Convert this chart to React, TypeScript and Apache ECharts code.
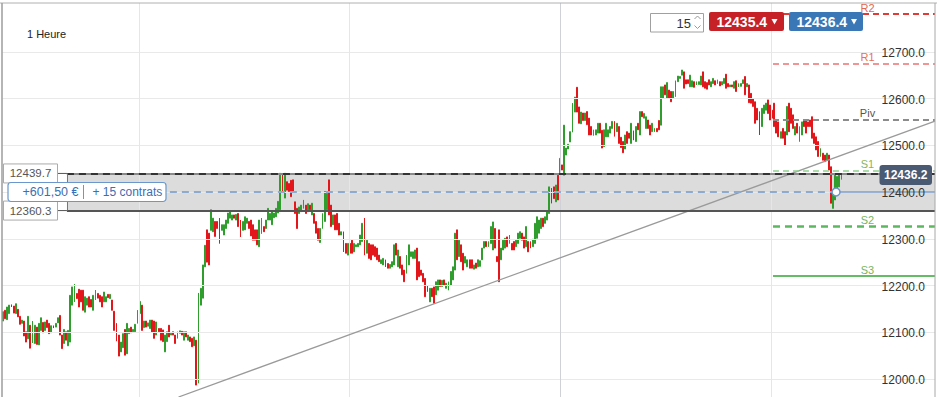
import React, { useEffect, useRef } from "react";
import * as echarts from "echarts";

const FONT = "'Liberation Sans', Arial, Helvetica, sans-serif";
const GREEN = "#2f9e2f";
const RED = "#e3171b";

// hourly candles: [open, close]
const candles: number[][] = [
  [12124,12144],[12147,12129],[12127,12154],[12140,12158],[12159,12154],[12156,12141],[12140,12161],[12149,12133],[12134,12117],[12119,12126],
  [12124,12092],[12101,12079],[12086,12134],[12115,12066],[12077,12124],[12076,12115],[12111,12074],[12073,12119],[12104,12131],[12121,12099],
  [12104,12122],[12126,12110],[12119,12097],[12099,12114],[12114,12109],[12111,12119],[12120,12131],[12136,12094],[12094,12065],[12076,12106],
  [12101,12083],[12071,12104],[12079,12179],[12158,12197],[12165,12203],[12183,12172],[12192,12154],[12190,12165],[12190,12147],[12143,12176],
  [12158,12173],[12176,12154],[12170,12154],[12147,12179],[12169,12190],[12183,12173],[12179,12165],[12176,12154],[12165,12186],[12165,12176],
  [12181,12174],[12172,12181],[12169,12147],[12145,12104],[12119,12081],[12094,12049],[12058,12079],[12067,12097],[12106,12051],[12054,12119],
  [12097,12108],[12111,12099],[12101,12106],[12101,12117],[12119,12147],[12140,12166],[12158,12104],[12110,12124],[12124,12111],[12113,12120],
  [12108,12126],[12126,12100],[12124,12087],[12094,12122],[12108,12101],[12108,12083],[12105,12080],[12058,12094],[12080,12101],[12115,12090],
  [12094,12098],[12101,12094],[12094,12076],[12087,12101],[12098,12103],[12102,12094],[12083,12101],[12101,12090],[12083,12094],[12090,12080],
  [12087,12069],[12071,12090],[12083,11987],[11991,12184],[12158,12194],[12173,12244],[12240,12286],[12319,12250],[12312,12244],[12318,12362],
  [12315,12344],[12337,12305],[12337,12322],[12344,12290],[12318,12330],[12308,12330],[12322,12340],[12333,12355],[12344,12358],[12340,12351],
  [12351,12344],[12340,12352],[12354,12326],[12340,12304],[12318,12337],[12319,12347],[12333,12344],[12337,12322],[12340,12306],[12330,12297],
  [12319,12297],[12319,12287],[12283,12340],[12311,12344],[12326,12315],[12322,12340],[12340,12365],[12340,12354],[12330,12358],[12345,12355],
  [12347,12365],[12355,12380],[12362,12440],[12437,12401],[12387,12440],[12422,12404],[12418,12401],[12425,12390],[12426,12401],[12379,12354],
  [12365,12322],[12354,12368],[12358,12372],[12365,12383],[12372,12354],[12358,12375],[12372,12362],[12351,12376],[12354,12333],[12337,12312],
  [12322,12297],[12292,12322],[12322,12354],[12337,12401],[12362,12397],[12426,12351],[12372,12326],[12330,12351],[12351,12319],[12354,12319],
  [12333,12308],[12308,12315],[12315,12272],[12290,12269],[12265,12290],[12290,12269],[12297,12269],[12272,12290],[12283,12287],[12283,12290],
  [12287,12308],[12294,12333],[12344,12265],[12269,12297],[12290,12258],[12287,12255],[12287,12265],[12283,12262],[12280,12255],[12265,12251],
  [12247,12255],[12244,12258],[12255,12240],[12247,12237],[12237,12245],[12240,12251],[12244,12287],[12290,12265],[12240,12276],[12262,12237],
  [12244,12223],[12233,12208],[12226,12265],[12244,12287],[12262,12272],[12258,12272],[12258,12276],[12280,12212],[12251,12219],[12233,12222],
  [12226,12208],[12215,12176],[12201,12187],[12165,12194],[12194,12176],[12197,12162],[12180,12208],[12190,12212],[12212,12198],[12198,12211],
  [12212,12201],[12194,12205],[12190,12208],[12201,12230],[12212,12240],[12233,12312],[12319,12255],[12262,12297],[12287,12251],[12269,12233],
  [12248,12262],[12240,12255],[12255,12237],[12255,12237],[12235,12244],[12248,12237],[12240,12255],[12241,12253],[12255,12280],[12280,12294],
  [12294,12283],[12283,12294],[12290,12326],[12276,12336],[12322,12280],[12262,12251],[12319,12208],[12255,12280],[12276,12297],[12280,12301],
  [12304,12283],[12290,12308],[12290,12276],[12294,12276],[12283,12297],[12290,12312],[12301,12315],[12312,12297],[12304,12280],[12283,12326],
  [12294,12272],[12294,12280],[12283,12299],[12290,12333],[12301,12347],[12312,12340],[12322,12344],[12344,12326],[12333,12347],[12340,12358],
  [12354,12411],[12408,12376],[12411,12386],[12379,12415],[12436,12383],[12441,12472],[12458,12447],[12436,12543],[12479,12494],[12492,12502],
  [12507,12529],[12528,12590],[12571,12603],[12624,12571],[12582,12547],[12546,12571],[12569,12553],[12553,12569],[12572,12544],[12558,12522],
  [12540,12522],[12521,12533],[12522,12533],[12526,12547],[12547,12526],[12532,12494],[12497,12533],[12518,12547],[12518,12533],[12526,12540],
  [12536,12551],[12551,12519],[12529,12547],[12540,12504],[12517,12495],[12508,12484],[12492,12522],[12529,12504],[12526,12515],[12504,12547],
  [12531,12511],[12508,12540],[12547,12533],[12522,12572],[12572,12561],[12558,12568],[12536,12561],[12554,12536],[12543,12522],[12529,12547],
  [12529,12536],[12536,12529],[12553,12533],[12543,12625],[12600,12625],[12629,12608],[12600,12634],[12618,12600],[12615,12593],[12600,12615],
  [12604,12638],[12636,12648],[12643,12647],[12650,12661],[12657,12622],[12640,12631],[12640,12632],[12625,12650],[12625,12638],[12636,12624],
  [12629,12636],[12630,12636],[12629,12648],[12657,12625],[12636,12622],[12634,12620],[12640,12629],[12625,12636],[12632,12643],[12638,12629],
  [12632,12640],[12636,12627],[12629,12636],[12632,12643],[12652,12622],[12632,12625],[12625,12629],[12629,12625],[12622,12636],[12638,12615],
  [12625,12632],[12626,12632],[12632,12640],[12647,12608],[12625,12632],[12629,12591],[12611,12590],[12600,12583],[12593,12547],[12579,12554],
  [12572,12522],[12540,12579],[12568,12586],[12575,12590],[12597,12568],[12586,12554],[12575,12558],[12590,12540],[12554,12526],[12550,12518],
  [12515,12529],[12536,12515],[12529,12500],[12522,12583],[12590,12529],[12579,12547],[12565,12536],[12522,12540],[12547,12526],[12508,12540],
  [12522,12550],[12554,12540],[12554,12526],[12550,12540],[12554,12540],[12561,12515],[12526,12504],[12518,12490],[12508,12476],[12476,12493],
  [12483,12468],[12479,12465],[12468,12483],[12479,12447],[12454,12376],[12365,12404],[12383,12436],[12404,12433],[12411,12436],[12427,12436]
];

const xSlots = [-0.5, 443.5];
const priceRange = [11961.5, 12804.3];
const priceTicks = [12000, 12100, 12200, 12300, 12400, 12500, 12600, 12700];
const sessionBreaks = [64.7, 164.7, 265, 365.4];
const zoneLevels = [12439.7, 12360.3];
const zoneLabels = ["12439.7", "12360.3"];
const zoneStart = 30.4;
const positionPrice = 12400;
const positionSpan = [79.4, 396.4];
const pivotNames = ["R2", "R1", "Piv", "S1", "S2", "S3"];
const pivotValues = [12781, 12675, 12555.5, 12446.5, 12327.5, 12220.5];
const pivotStart = 366.4;
const trendLine = [[83.5, 11961.5], [443.5, 12551.6]];
const lastPrice = 12436.2;
const bidText = "12435.4";
const askText = "12436.4";
const quantityText = "15";
const timeframeText = "1 Heure";
const pnlText = "+601,50 €";
const contractsText = "+ 15 contrats";

const pivotLine = [
  { color: "#e53935", width: 2, type: [6, 4] },
  { color: "#f07070", width: 1.5, type: [6, 4] },
  { color: "#8c8c8c", width: 2.2, type: [6, 4] },
  { color: "#8fd18f", width: 1.5, type: [6, 4] },
  { color: "#5cb85c", width: 2.5, type: [7, 5] },
  { color: "#66bb66", width: 2, type: "solid" },
];
const pivotLabelColor = ["#e2694a", "#e8705a", "#555555", "#8ab55a", "#7ab55c", "#7ab55c"];

export default function App() {
  const ref = useRef<HTMLDivElement>(null);
  useEffect(() => {
    if (!ref.current) return;
    const chart = echarts.init(ref.current, undefined, { renderer: "svg" });
    const xMin = xSlots[0];
    const xMax = xSlots[1];
    const seg = (x1: number, y1: number, x2: number, y2: number, ls: any) => [
      { coord: [x1, y1], lineStyle: ls },
      { coord: [x2, y2] },
    ];

    const gridLines = priceTicks.map((v) => seg(xMin, v, xMax, v, { color: "#e9e9e9", width: 1, type: "solid" }));
    const breakLines = sessionBreaks.map((x, i) =>
      seg(x, priceRange[0], x, priceRange[1], { color: i === 2 ? "#cfd0d8" : "#e6e6e6", width: 1, type: "solid" })
    );

    const overlay: any[] = [];
    overlay.push(seg(trendLine[0][0], trendLine[0][1], trendLine[1][0], trendLine[1][1], { color: "#9a9a9a", width: 1.3, type: "solid" }));
    overlay.push(seg(zoneStart, zoneLevels[0], xMax, zoneLevels[0], { color: "#8a8a8a", width: 2, type: "solid" }));
    overlay.push(seg(zoneStart, zoneLevels[0], xMax, zoneLevels[0], { color: "#333333", width: 2, type: [7, 5] }));
    overlay.push(seg(zoneStart, zoneLevels[1], xMax, zoneLevels[1], { color: "#555555", width: 2, type: "solid" }));
    overlay.push(seg(zoneStart, zoneLevels[0], zoneStart, zoneLevels[1], { color: "#777777", width: 1, type: "solid" }));
    pivotValues.forEach((v, i) => overlay.push(seg(pivotStart, v, xMax, v, pivotLine[i])));
    overlay.push(seg(positionSpan[0], positionPrice, positionSpan[1], positionPrice, { color: "#8eabcf", width: 2, type: [7, 5] }));
    overlay.push(seg(positionSpan[1], positionPrice, xMax, positionPrice, { color: "#7fa0cc", width: 1.5, type: "solid" }));

    chart.setOption({
      animation: false,
      grid: { left: 2, right: 2, top: 3, bottom: 0, containLabel: false },
      xAxis: {
        type: "value", min: xMin, max: xMax,
        axisLine: { show: false }, axisTick: { show: false }, axisLabel: { show: false }, splitLine: { show: false },
      },
      yAxis: {
        type: "value", min: priceRange[0], max: priceRange[1], position: "right",
        axisLine: { show: false }, axisTick: { show: false }, splitLine: { show: false }, axisLabel: { show: false },
      },
      series: [
        {
          type: "line", data: [], z: 1, silent: true,
          markArea: {
            silent: true,
            itemStyle: { color: "#dcdcdc", borderWidth: 0 },
            data: [[{ coord: [zoneStart, zoneLevels[0]] }, { coord: [xMax, zoneLevels[1]] }]],
          },
          markLine: { silent: true, symbol: ["none", "none"], label: { show: false }, data: [...gridLines, ...breakLines] },
        },
        {
          type: "candlestick", z: 3,
          data: candles.map((c, i) => [i, c[0], c[1], Math.min(c[0], c[1]), Math.max(c[0], c[1])]),
          encode: { x: 0, y: [1, 2, 3, 4] },
          barWidth: 1.4,
          itemStyle: { color: GREEN, color0: RED, borderColor: GREEN, borderColor0: RED, borderWidth: 1 },
        },
        {
          type: "line", data: [], z: 4, silent: true,
          markLine: { silent: true, symbol: ["none", "none"], label: { show: false }, data: overlay },
        },
      ],
    });

    const px = (x: number, y: number) => chart.convertToPixel({ gridIndex: 0 }, [x, y]) as number[];
    const g: any[] = [];
    const Z = 100;
    // price labels
    priceTicks.forEach((v) => {
      const p = px(xMax, v);
      g.push({ type: "text", z: Z - 1, x: 925, y: p[1] + 1, style: { text: v.toFixed(1), fill: "#333", fontSize: 12, fontFamily: FONT, align: "right", verticalAlign: "middle" } });
    });
    // frame
    g.push({ type: "line", z: Z, shape: { x1: 0, y1: 3, x2: 937, y2: 3 }, style: { stroke: "#b0b0b0", lineWidth: 1 } });
    g.push({ type: "line", z: Z, shape: { x1: 2, y1: 3, x2: 2, y2: 397 }, style: { stroke: "#9c9c9c", lineWidth: 1.5 } });
    g.push({ type: "line", z: Z, shape: { x1: 935, y1: 3, x2: 935, y2: 397 }, style: { stroke: "#a8a8a8", lineWidth: 1 } });
    g.push({ type: "text", z: Z, x: 27, y: 33.5, style: { text: timeframeText, fill: "#222", fontSize: 11, fontFamily: FONT, verticalAlign: "middle" } });

    // zone labels
    zoneLevels.forEach((v, i) => {
      const p = px(zoneStart, v);
      g.push({ type: "line", z: Z, shape: { x1: 57.5, y1: p[1], x2: p[0], y2: p[1] }, style: { stroke: "#555", lineWidth: 1 } });
      g.push({ type: "rect", z: Z, shape: { x: 3.5, y: p[1] - 9.5, width: 54, height: 19 }, style: { fill: "#fff", stroke: "#aaa", lineWidth: 1 } });
      g.push({ type: "text", z: Z + 1, x: 30.5, y: p[1], style: { text: zoneLabels[i], fill: "#555", fontSize: 11.5, fontFamily: FONT, align: "center", verticalAlign: "middle" } });
    });

    // position box
    const pp = px(positionSpan[0], positionPrice);
    g.push({ type: "rect", z: Z + 2, shape: { x: 8, y: pp[1] - 9.5, width: 158, height: 19, r: 3 }, style: { fill: "#fff", stroke: "#6a98cc", lineWidth: 1.2 } });
    g.push({ type: "text", z: Z + 3, x: 22.5, y: pp[1], style: { text: pnlText, fill: "#3a6fb3", fontSize: 12.5, fontFamily: FONT, verticalAlign: "middle" } });
    g.push({ type: "line", z: Z + 3, shape: { x1: 83.5, y1: pp[1] - 7, x2: 83.5, y2: pp[1] + 7 }, style: { stroke: "#6a98cc", lineWidth: 1 } });
    g.push({ type: "text", z: Z + 3, x: 92.5, y: pp[1], style: { text: contractsText, fill: "#3a6fb3", fontSize: 12, fontFamily: FONT, verticalAlign: "middle" } });
    const pm = px(positionSpan[1], positionPrice);
    g.push({ type: "circle", z: Z, shape: { cx: pm[0], cy: pm[1], r: 4 }, style: { fill: "#fff", stroke: "#6d94c8", lineWidth: 1.5 } });

    // pivot labels
    pivotValues.forEach((v, i) => {
      const p = px(pivotStart, v);
      g.push({ type: "text", z: Z, x: 867.5, y: p[1] - 6, style: { text: pivotNames[i], fill: pivotLabelColor[i], fontSize: 11, fontFamily: FONT, align: "center", verticalAlign: "middle" } });
    });

    // last price
    const lp = px(xMax, lastPrice);
    g.push({ type: "rect", z: Z, shape: { x: 879.5, y: lp[1] - 10, width: 52.5, height: 20, r: 3 }, style: { fill: "#4b5a73" } });
    g.push({ type: "text", z: Z + 1, x: 905.7, y: lp[1], style: { text: lastPrice.toFixed(1), fill: "#fff", fontSize: 12, fontWeight: "bold", fontFamily: FONT, align: "center", verticalAlign: "middle" } });

    // top widgets
    g.push({ type: "rect", z: Z, shape: { x: 650.5, y: 13.5, width: 53, height: 18.5 }, style: { fill: "#fff", stroke: "#a0a0a0", lineWidth: 1 } });
    g.push({ type: "text", z: Z, x: 691, y: 23, style: { text: quantityText, fill: "#333", fontSize: 13, fontFamily: FONT, align: "right", verticalAlign: "middle" } });
    g.push({ type: "polyline", z: Z, shape: { points: [[694.5, 19], [697.5, 16], [700.5, 19]] }, style: { stroke: "#999", lineWidth: 1, fill: null } });
    g.push({ type: "polyline", z: Z, shape: { points: [[694.5, 25.5], [697.5, 28.5], [700.5, 25.5]] }, style: { stroke: "#999", lineWidth: 1, fill: null } });
    g.push({ type: "rect", z: Z, shape: { x: 709, y: 12, width: 75, height: 19, r: 2 }, style: { fill: "#c62127" } });
    g.push({ type: "text", z: Z, x: 716.5, y: 21.8, style: { text: bidText, fill: "#fff", fontSize: 14, fontWeight: "bold", fontFamily: FONT, verticalAlign: "middle" } });
    g.push({ type: "polygon", z: Z, shape: { points: [[771.5, 19], [777.5, 19], [774.5, 24.5]] }, style: { fill: "#fff" } });
    g.push({ type: "rect", z: Z, shape: { x: 789, y: 12, width: 74, height: 19, r: 2 }, style: { fill: "#3a77b7" } });
    g.push({ type: "text", z: Z, x: 796.5, y: 21.8, style: { text: askText, fill: "#fff", fontSize: 14, fontWeight: "bold", fontFamily: FONT, verticalAlign: "middle" } });
    g.push({ type: "polygon", z: Z, shape: { points: [[851, 19], [857, 19], [854, 24.5]] }, style: { fill: "#fff" } });

    chart.setOption({ graphic: g });
    return () => chart.dispose();
  }, []);
  return <div ref={ref} style={{ position: "fixed", left: 0, top: 0, width: 937, height: 397, background: "#fff" }} />;
}
